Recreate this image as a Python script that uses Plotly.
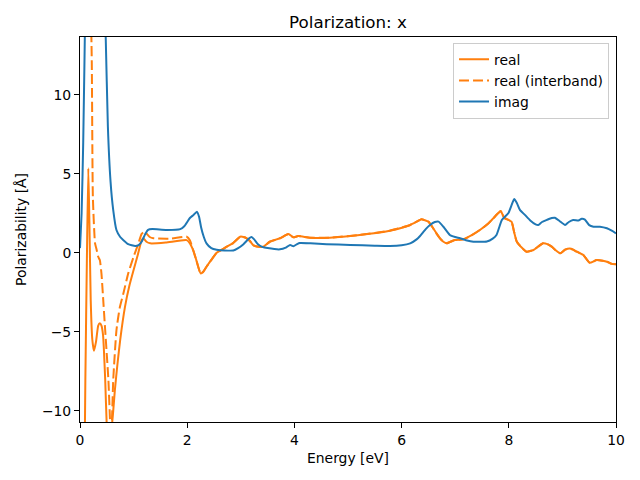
import plotly.graph_objects as go

# Imaginary part
imag_x = [0.0, 0.03, 0.06, 0.1, 0.15, 0.3, 0.42, 0.48, 0.52, 0.57, 0.62, 0.68, 0.75, 0.81, 0.9,
          1.03, 1.1, 1.15, 1.22, 1.27, 1.35, 1.6, 1.87, 1.95, 2.05, 2.12, 2.18, 2.22, 2.26, 2.31,
          2.36, 2.45, 2.55, 2.7, 2.86, 2.95, 3.05, 3.15, 3.2, 3.25, 3.32, 3.4, 3.5, 3.73, 3.85,
          3.92, 3.98, 4.05, 4.1, 4.3, 4.6, 5.04, 5.5, 5.78, 6.0, 6.16, 6.28, 6.34, 6.45, 6.53,
          6.62, 6.69, 6.78, 6.9, 7.0, 7.09, 7.2, 7.34, 7.59, 7.7, 7.77, 7.82, 7.87, 7.99, 8.05,
          8.1, 8.15, 8.21, 8.3, 8.4, 8.5, 8.55, 8.62, 8.71, 8.8, 8.86, 8.95, 9.05, 9.12, 9.2,
          9.3, 9.36, 9.42, 9.5, 9.58, 9.7, 9.83, 9.92, 10.0]
imag_y = [0.3, 2.5, 7, 16, 30, 40, 20, 13.6, 8, 4.5, 2.7, 1.44, 1.0, 0.8, 0.55,
          0.43, 0.5, 0.7, 1.2, 1.45, 1.5, 1.45, 1.5, 1.7, 2.2, 2.4, 2.6, 2.3, 1.6, 1.0,
          0.6, 0.3, 0.2, 0.15, 0.15, 0.3, 0.55, 0.9, 1.0, 0.85, 0.55, 0.38, 0.3, 0.22, 0.35,
          0.5, 0.42, 0.55, 0.62, 0.6, 0.55, 0.5, 0.45, 0.43, 0.48, 0.6, 0.85, 1.05, 1.5, 1.76,
          1.95, 1.97, 1.65, 1.13, 1.0, 0.92, 0.8, 0.7, 0.72, 0.9, 1.13, 1.6, 2.08, 2.5, 3.0,
          3.4, 3.15, 2.7, 2.4, 2.05, 1.8, 1.76, 1.95, 2.08, 2.2, 2.22, 2.0, 1.76, 1.95, 2.08,
          2.05, 2.15, 2.1, 1.75, 1.65, 1.65, 1.55, 1.4, 1.23]

# Real part (total)
real_x = [0.0, 0.08, 0.1, 0.13, 0.155, 0.175, 0.2, 0.23, 0.26, 0.3, 0.34, 0.37, 0.4, 0.43, 0.47,
          0.5, 0.54, 0.58, 0.62, 0.65, 0.7, 0.75, 0.84, 0.92, 1.0, 1.08, 1.15, 1.18, 1.24, 1.31,
          1.6, 1.99, 2.05, 2.11, 2.17, 2.25, 2.3, 2.36, 2.45, 2.55, 2.65, 2.74, 2.85, 2.99, 3.05,
          3.11, 3.17, 3.23, 3.3, 3.42, 3.54, 3.73, 3.89, 3.98, 4.07, 4.29, 4.66, 5.22, 5.78, 6.16,
          6.3, 6.37, 6.5, 6.58, 6.65, 6.72, 6.78, 6.84, 6.99, 7.15, 7.3, 7.46, 7.6, 7.71, 7.8,
          7.85, 7.9, 7.93, 8.05, 8.1, 8.15, 8.25, 8.33, 8.46, 8.55, 8.64, 8.72, 8.8, 8.88, 8.96,
          9.05, 9.14, 9.2, 9.27, 9.39, 9.45, 9.51, 9.64, 9.75, 9.83, 9.92, 10.0]
real_y = [-30, -15, -8, 0, 5.35, 2, -3, -5.5, -6.2, -5.6, -4.6, -4.46, -4.6, -5.2, -8.0,
          -11, -13, -11.5, -10, -8.7, -7, -5.5, -3.4, -2.1, -1.09, -0.1, 0.8, 0.92, 0.7, 0.6,
          0.65, 0.8, 0.6, 0.18, -0.46, -1.3, -1.2, -0.88, -0.45, 0.0, 0.2, 0.39, 0.6, 1.02, 1.0,
          0.92, 0.75, 0.49, 0.4, 0.39, 0.7, 0.92, 1.19, 0.98, 1.06, 0.96, 0.96, 1.13, 1.4, 1.76,
          2.0, 2.12, 1.97, 1.6, 1.23, 0.9, 0.7, 0.6, 0.81, 0.85, 1.1, 1.44, 1.8, 2.18, 2.5,
          2.64, 2.3, 2.18, 1.97, 1.3, 0.7, 0.3, 0.07, 0.18, 0.4, 0.6, 0.55, 0.39, 0.15, -0.03,
          0.2, 0.28, 0.2, 0.07, -0.14, -0.4, -0.63, -0.46, -0.5, -0.56, -0.7, -0.73]

# Real part (interband) below 2.1 eV; identical to total real part above
inter_low_x = [0.0, 0.1, 0.18, 0.22, 0.24, 0.28, 0.31, 0.34, 0.37, 0.4, 0.43, 0.47, 0.53, 0.56,
               0.58, 0.6, 0.62, 0.68, 0.74, 0.81, 0.9, 1.0, 1.08, 1.15, 1.2, 1.3, 1.37, 1.7,
               1.99, 2.05]
inter_low_y = [60, 35, 20, 12, 3.55, 0.62, 0.2, -0.25, -0.46, -1.3, -2.8, -4.9, -8.05, -10.6,
               -12, -10.2, -8.05, -4.9, -3.5, -2.56, -1.3, -0.25, 0.5, 1.2, 1.34, 1.0, 0.92, 0.9,
               1.02, 0.8]
inter_x = inter_low_x + [x for x in real_x if x > 2.1]
inter_y = inter_low_y + [y for x, y in zip(real_x, real_y) if x > 2.1]

ORANGE = "#ff7f0e"
BLUE = "#1f77b4"
FONT = "DejaVu Sans"

# page body has an 8px margin, so the figure is 632x472 placed at (8, 8)
W, H = 632, 472

fig = go.Figure()
fig.add_trace(go.Scatter(x=real_x, y=real_y, mode="lines", name="real",
                         line=dict(color=ORANGE, width=2, shape="spline", smoothing=0.5)))
fig.add_trace(go.Scatter(x=inter_x, y=inter_y, mode="lines", name="real (interband)",
                         line=dict(color=ORANGE, width=2, dash="10px,4px",
                                   shape="spline", smoothing=0.5)))
fig.add_trace(go.Scatter(x=imag_x, y=imag_y, mode="lines", name="imag",
                         line=dict(color=BLUE, width=2, shape="spline", smoothing=0.5)))

axis_common = dict(showgrid=False, zeroline=False, showline=True, linecolor="black",
                   linewidth=1, mirror=True, ticks="outside", ticklen=5, tickwidth=1,
                   automargin=False,
                   tickcolor="black", tickfont=dict(family=FONT, size=13.9, color="black"))

fig.update_layout(
    width=W, height=H,
    margin=dict(l=72, r=24, t=29, b=58),
    plot_bgcolor="white", paper_bgcolor="white",
    font=dict(family=FONT, color="black"),
    title=dict(text="Polarization: x", x=(348 - 8) / W, xanchor="center", xref="container",
               y=1 - (22 - 8) / H, yanchor="middle", yref="container",
               font=dict(family=FONT, size=16.7, color="black")),
    xaxis=dict(range=[0, 10], tickvals=[0, 2, 4, 6, 8, 10],
               title=dict(text="Energy [eV]", standoff=6,
                          font=dict(family=FONT, size=13.9, color="black")),
               **axis_common),
    yaxis=dict(range=[-10.7, 13.65], tickvals=[-10, -5, 0, 5, 10],
               ticktext=["\u221210", "\u22125", "0", "5", "10"],
               title=dict(text="Polarizability [Å]", standoff=12,
                          font=dict(family=FONT, size=13.9, color="black")),
               **axis_common),
    legend=dict(x=0.987, y=0.985, xanchor="right", yanchor="top",
                bgcolor="rgba(255,255,255,0.8)", bordercolor="#cccccc", borderwidth=1,
                font=dict(family=FONT, size=13.9, color="black"),
                tracegroupgap=0, itemwidth=30),
    showlegend=True,
)

fig.write_html("out.html")
